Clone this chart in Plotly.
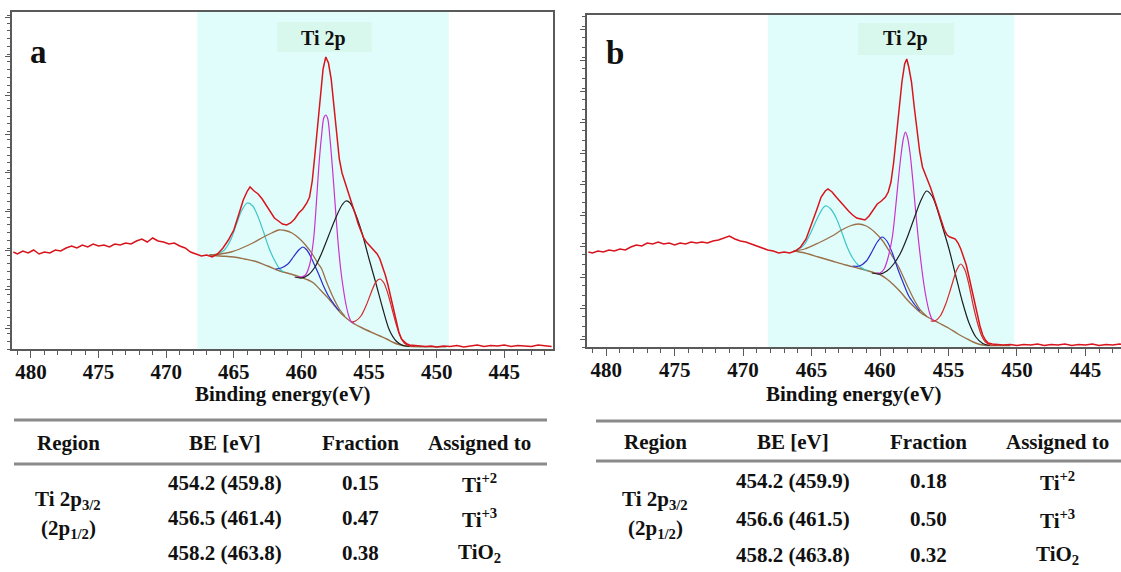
import plotly.graph_objects as go

W, H = 1121, 572

# ---------------- Panel a data (binding energy eV, intensity a.u.) ----------------
A_MEASURED = [
    (481.3, 97), (481.0, 95), (480.6, 98), (480.2, 96), (479.8, 99), (479.4, 95), (479.0, 97),
    (478.6, 96), (478.2, 99), (477.8, 98), (477.4, 101), (477.0, 103), (476.6, 101), (476.2, 104),
    (475.8, 102), (475.4, 105), (475.0, 103), (474.6, 104), (474.2, 102), (473.8, 105), (473.4, 104),
    (473.0, 106), (472.6, 105), (472.2, 108), (471.8, 110), (471.4, 107), (471.0, 111), (470.6, 108),
    (470.2, 107), (469.8, 105), (469.4, 106), (469.0, 103), (468.6, 101), (468.2, 97), (467.8, 95),
    (467.4, 93), (467.0, 94), (466.6, 92), (466.2, 95), (465.8, 101), (465.4, 109), (465.0, 119),
    (464.6, 136), (464.3, 149), (464.0, 158), (463.8, 162), (463.5, 158), (463.2, 155), (462.9, 150),
    (462.6, 144), (462.3, 137), (462.0, 131), (461.7, 128), (461.4, 125), (461.1, 124), (460.8, 126),
    (460.5, 130), (460.2, 136), (459.9, 140), (459.6, 146), (459.4, 152), (459.2, 168), (459.0, 195),
    (458.8, 225), (458.6, 255), (458.4, 280), (458.2, 292), (458.0, 286), (457.8, 270), (457.6, 245),
    (457.4, 215), (457.2, 190), (457.0, 176), (456.8, 168), (456.6, 160), (456.4, 152), (456.2, 144),
    (456.0, 134), (455.8, 125), (455.6, 117), (455.4, 111), (455.2, 107), (455.0, 104), (454.8, 101),
    (454.6, 99), (454.4, 95), (454.2, 90), (454.0, 83), (453.8, 74), (453.6, 64), (453.4, 52),
    (453.2, 39), (453.0, 27), (452.8, 17), (452.6, 10), (452.4, 7), (452.2, 5), (452.0, 4),
    (451.6, 3.5), (451.2, 3), (450.8, 2.5), (450.4, 3), (450.0, 2), (449.5, 3), (449.0, 2.5),
    (448.5, 3.5), (448.0, 2), (447.5, 3), (447.0, 4), (446.5, 2.5), (446.0, 3.5), (445.5, 3),
    (445.0, 4), (444.5, 2.5), (444.0, 3.5), (443.5, 3), (443.0, 2.5), (442.5, 4), (442.0, 3), (441.5, 2.5),
]
A_BACKGROUND = [
    (466.8, 94), (466.0, 93), (465.0, 92), (464.2, 90), (463.5, 88), (462.5, 83), (461.6, 78),
    (460.8, 75), (459.9, 71), (459.5, 69), (459.1, 66), (458.6, 59), (458.1, 52), (457.6, 44),
    (457.1, 36), (456.6, 30), (456.2, 26), (455.5, 21), (454.7, 16), (454.2, 13), (453.7, 10),
    (453.2, 6.5), (452.8, 4.5), (452.3, 3), (451.8, 2.5), (450.5, 2.3), (449.3, 2.3),
]
A_TIO2_2P12 = [  # cyan
    (466.8, 94), (466.2, 95), (465.7, 99), (465.2, 110), (464.8, 125), (464.4, 139), (464.0, 146),
    (463.6, 143), (463.2, 132), (462.8, 117), (462.4, 101), (462.0, 89), (461.6, 80), (461.3, 77),
]
A_TI3_2P12 = [  # brown
    (466.8, 94), (466.0, 95), (465.2, 97), (464.4, 101), (463.6, 106), (462.8, 112), (462.2, 116),
    (461.7, 119), (461.2, 118.5), (460.7, 116), (460.2, 111), (459.7, 104), (459.2, 95), (458.8, 86),
    (458.5, 80), (458.2, 69), (457.7, 53), (457.2, 40), (456.8, 33),
]
A_TI2_2P12 = [  # blue
    (461.9, 80), (461.5, 81), (461.0, 85), (460.6, 92), (460.2, 99), (459.9, 102), (459.6, 99),
    (459.3, 92), (459.0, 83), (458.7, 74), (458.4, 64), (458.0, 53), (457.6, 45), (457.2, 38),
]
A_TIO2_2P32 = [  # magenta
    (460.3, 72), (460.0, 72), (459.7, 74), (459.4, 84), (459.1, 110), (458.9, 145), (458.7, 185),
    (458.5, 215), (458.35, 231), (458.2, 234), (458.05, 230), (457.9, 212), (457.7, 180), (457.5, 143),
    (457.3, 108), (457.1, 80), (456.9, 60), (456.7, 44), (456.5, 33), (456.3, 27), (456.1, 26),
]
A_TI3_2P32 = [  # black
    (460.5, 72), (460.0, 71), (459.5, 74), (459.0, 82), (458.5, 96), (458.0, 113), (457.5, 130),
    (457.0, 144), (456.7, 148), (456.4, 146), (456.0, 135), (455.5, 115), (455.0, 90), (454.5, 66),
    (454.0, 41), (453.5, 19), (453.0, 8), (452.5, 3.5), (452.0, 2.5),
]
A_TI2_2P32 = [  # red component
    (456.3, 27), (456.0, 28), (455.6, 33), (455.2, 44), (454.8, 58), (454.5, 67), (454.2, 70),
    (453.9, 66), (453.6, 55), (453.3, 40), (453.0, 25), (452.7, 13), (452.4, 6), (452.0, 3), (451.6, 2.5),
]

# ---------------- Panel b data ----------------
B_MEASURED = [
    (481.3, 95), (481.0, 94), (480.6, 96), (480.2, 95), (479.8, 97), (479.4, 96), (479.0, 98),
    (478.6, 97), (478.2, 100), (477.8, 102), (477.4, 101), (477.0, 104), (476.6, 103), (476.2, 105),
    (475.8, 103), (475.4, 104), (475.0, 102), (474.6, 104), (474.2, 103), (473.8, 105), (473.4, 104),
    (473.0, 105), (472.6, 104), (472.2, 106), (471.8, 107), (471.4, 109), (471.0, 111), (470.6, 108),
    (470.2, 106), (469.8, 105), (469.4, 103), (469.0, 101), (468.6, 99), (468.2, 97), (467.8, 96),
    (467.4, 94), (467.0, 95), (466.6, 94), (466.2, 96), (465.8, 100), (465.4, 108), (465.0, 122),
    (464.6, 138), (464.3, 150), (464.0, 156), (463.8, 158), (463.5, 155), (463.2, 150), (462.9, 145),
    (462.6, 140), (462.3, 136), (462.0, 132), (461.7, 129), (461.4, 128), (461.1, 127), (460.8, 131),
    (460.5, 137), (460.2, 143), (459.9, 146), (459.6, 150), (459.4, 155), (459.2, 165), (459.0, 185),
    (458.8, 212), (458.6, 240), (458.4, 265), (458.2, 283), (458.05, 288), (457.9, 280), (457.7, 265),
    (457.5, 240), (457.3, 218), (457.1, 195), (456.9, 180), (456.7, 172), (456.5, 166), (456.3, 159),
    (456.1, 151), (455.9, 143), (455.7, 135), (455.5, 126), (455.3, 117), (455.1, 112), (454.9, 110),
    (454.7, 109), (454.5, 108), (454.3, 104), (454.1, 98), (453.9, 90), (453.7, 82), (453.5, 70),
    (453.3, 57), (453.1, 45), (452.9, 32), (452.7, 21), (452.5, 12), (452.3, 7), (452.1, 4),
    (451.8, 3), (451.4, 2.5), (451.0, 2), (450.5, 2.5), (450.0, 1.5), (449.5, 2.5), (449.0, 2),
    (448.5, 3), (448.0, 1.5), (447.5, 2.5), (447.0, 2), (446.5, 3), (446.0, 1.5), (445.5, 2.5),
    (445.0, 2), (444.5, 3), (444.0, 1.5), (443.5, 2.5), (443.0, 2), (442.5, 3), (442.0, 2),
]
B_BACKGROUND = [
    (466.3, 96), (465.5, 94), (464.5, 90), (463.5, 86), (462.5, 82), (461.5, 78.5), (460.6, 75),
    (460.0, 72.5), (459.5, 68), (459.0, 62), (458.5, 55), (458.0, 47), (457.5, 40), (457.0, 34),
    (456.4, 29), (455.7, 24), (455.0, 19), (454.3, 13), (453.7, 8.5), (453.2, 5), (452.7, 2.5),
    (452.2, 1.5), (450.5, 1.5),
]
B_TIO2_2P12 = [
    (466.3, 96), (465.9, 98), (465.5, 103), (465.0, 116), (464.5, 131), (464.1, 140), (463.9, 141),
    (463.6, 138), (463.2, 129), (462.8, 115), (462.4, 100), (462.0, 89), (461.6, 82), (461.2, 78), (460.9, 76),
]
B_TI3_2P12 = [
    (466.3, 96), (465.5, 98), (464.5, 104), (463.5, 111), (462.8, 117), (462.2, 121), (461.6, 123),
    (461.0, 121), (460.4, 115), (459.8, 106), (459.2, 93), (458.6, 79), (458.0, 61), (457.5, 47),
    (457.0, 36), (456.6, 31),
]
B_TI2_2P12 = [
    (462.0, 81), (461.5, 81), (461.0, 86), (460.6, 95), (460.2, 105), (459.85, 110), (459.5, 106),
    (459.1, 94), (458.7, 78), (458.3, 64), (457.9, 51), (457.5, 43), (457.1, 36),
]
B_TIO2_2P32 = [
    (460.3, 74), (460.0, 74), (459.7, 78), (459.4, 90), (459.1, 110), (458.9, 134), (458.7, 162),
    (458.5, 188), (458.3, 208), (458.15, 215), (458.0, 210), (457.8, 193), (457.6, 166), (457.4, 136),
    (457.2, 108), (457.0, 84), (456.8, 63), (456.6, 47), (456.4, 35), (456.2, 28), (456.0, 26),
]
B_TI3_2P32 = [
    (460.6, 74), (460.0, 73), (459.5, 76), (459.0, 83), (458.5, 94), (458.0, 110), (457.5, 129),
    (457.0, 147), (456.6, 156), (456.2, 151), (455.9, 141), (455.5, 123), (455.0, 100), (454.5, 73),
    (454.0, 46), (453.5, 24), (453.0, 10), (452.5, 3.5), (452.0, 1.5),
]
B_TI2_2P32 = [
    (456.3, 26), (456.0, 26), (455.6, 31), (455.2, 43), (454.8, 60), (454.4, 77), (454.1, 83),
    (453.8, 77), (453.5, 62), (453.2, 42), (452.9, 25), (452.6, 12), (452.3, 5), (451.9, 2), (451.5, 1.5),
]

# ---------------- Table data ----------------
TABLE_HEADERS = ["Region", "BE [eV]", "Fraction", "Assigned to"]
A_BE = ["454.2 (459.8)", "456.5 (461.4)", "458.2 (463.8)"]
A_FRACTION = ["0.15", "0.47", "0.38"]
B_BE = ["454.2 (459.9)", "456.6 (461.5)", "458.2 (463.8)"]
B_FRACTION = ["0.18", "0.50", "0.32"]
ASSIGNED = ["Ti<sup>+2</sup>", "Ti<sup>+3</sup>", "TiO<sub>2</sub>"]
REGION = ["Ti 2p<sub>3/2</sub>", "(2p<sub>1/2</sub>)"]

# fit regions (shaded) and peak label
A_REGION = (467.7, 449.1)
B_REGION = (468.2, 450.2)
A_LABEL_BOX = (461.8, 454.8)
B_LABEL_BOX = (461.6, 454.6)

SERIF = "Liberation Serif"
RED = "#d8141c"

COMPONENT_STYLE = [
    ("bg", "#9a7048", 1.4),
    ("cyan", "#3cc6c6", 1.2),
    ("brown", "#9a7048", 1.3),
    ("blue", "#2b2bd0", 1.2),
    ("magenta", "#cc30cc", 1.2),
    ("black", "#1e1e1e", 1.2),
    ("redc", "#d42a2a", 1.2),
]

fig = go.Figure()


def add_panel(xa, ya, comps, measured):
    for (name, color, width), data in zip(COMPONENT_STYLE, comps):
        xs, ys = zip(*data)
        fig.add_trace(go.Scatter(x=xs, y=ys, mode="lines", xaxis=xa, yaxis=ya,
                                 line=dict(color=color, width=width, shape="spline", smoothing=0.8),
                                 showlegend=False, hoverinfo="skip"))
    xs, ys = zip(*measured)
    fig.add_trace(go.Scatter(x=xs, y=ys, mode="lines", xaxis=xa, yaxis=ya,
                             line=dict(color=RED, width=1.5), showlegend=False, hoverinfo="skip"))


add_panel("x", "y", [A_BACKGROUND, A_TIO2_2P12, A_TI3_2P12, A_TI2_2P12, A_TIO2_2P32, A_TI3_2P32, A_TI2_2P32],
          A_MEASURED)
add_panel("x2", "y2", [B_BACKGROUND, B_TIO2_2P12, B_TI3_2P12, B_TI2_2P12, B_TIO2_2P32, B_TI3_2P32, B_TI2_2P32],
          B_MEASURED)


def px(x):
    return x / W


def py(y):
    return 1 - y / H


axis_line = dict(showline=True, linecolor="#5a5a5a", linewidth=1.6, showgrid=False, zeroline=False)
xcommon = dict(axis_line, ticks="outside", ticklen=7, tickwidth=1.3, tickcolor="#5a5a5a", dtick=5,
               tickfont=dict(family=SERIF, size=21, color="#111", weight="bold"), ticklabelstandoff=-4,
               minor=dict(ticks="outside", ticklen=4, dtick=1, tickcolor="#5a5a5a", tickwidth=1.1),
               mirror=True)

fig.update_layout(
    width=W, height=H, margin=dict(l=0, r=0, t=0, b=0),
    paper_bgcolor="white", plot_bgcolor="white", showlegend=False,
    font=dict(family=SERIF),
    xaxis=dict(xcommon, domain=[px(12), px(553)], range=[481.4, 441.4], anchor="y"),
    yaxis=dict(axis_line, domain=[py(349), py(12)], range=[0, 337], anchor="x", mirror=True,
               showticklabels=False, ticks="outside", ticklen=5, tickcolor="#5a5a5a", tick0=21, dtick=38.8,
               minor=dict(ticks="outside", ticklen=3, dtick=7.76, tickcolor="#5a5a5a")),
    xaxis2=dict(xcommon, domain=[px(587), 1.0], range=[481.4, 442.4], anchor="y2"),
    yaxis2=dict(axis_line, domain=[py(347), py(14.7)], range=[0, 332.3], anchor="x2",
                showticklabels=False, ticks="outside", ticklen=5, tickcolor="#5a5a5a", tick0=8, dtick=31,
                minor=dict(ticks="outside", ticklen=3, dtick=10.33, tickcolor="#5a5a5a")),
)

shapes = []
for xr, yr, reg, box, yb in [("x", "y", A_REGION, A_LABEL_BOX, (0.881, 0.970)),
                              ("x2", "y2", B_REGION, B_LABEL_BOX, (0.879, 0.975))]:
    shapes.append(dict(type="rect", xref=xr, yref=yr + " domain", x0=reg[0], x1=reg[1], y0=0, y1=1,
                       fillcolor="#e0fdfc", line=dict(width=0), layer="below"))
    shapes.append(dict(type="rect", xref=xr, yref=yr + " domain", x0=box[0], x1=box[1], y0=yb[0], y1=yb[1],
                       fillcolor="#d8f8ee", line=dict(width=0), layer="below"))

# table rules
for x0, x1, ys in [(14, 547, (420, 464)), (596, 1121, (421, 461))]:
    for yy in ys:
        shapes.append(dict(type="line", xref="paper", yref="paper", x0=px(x0), x1=px(x1), y0=py(yy), y1=py(yy),
                           line=dict(color="#8a8a8a", width=3)))
fig.update_layout(shapes=shapes)

ann = []


def text(x, y, s, size=21):
    ann.append(dict(xref="paper", yref="paper", x=px(x), y=py(y), text="<b>" + s + "</b>", showarrow=False,
                    xanchor="center", yanchor="middle", font=dict(family=SERIF, size=size, color="#111")))


# panel letters and labels
text(39, 52, "a", 33)
text(615, 53, "b", 33)
text(323, 38, "Ti 2p", 20)
text(905, 39, "Ti 2p", 20)
text(282.5, 394, "Binding energy(eV)", 21)
text(854, 394, "Binding energy(eV)", 21)

# tables
for cols, hy, rows, be, frac in [((68, 225, 361, 479), 443, (483, 518, 553), A_BE, A_FRACTION),
                                 ((655, 793, 928, 1057), 442, (481, 519, 555), B_BE, B_FRACTION)]:
    for cx, h in zip(cols, TABLE_HEADERS):
        text(cx, hy, h)
    for ry, b, f, a in zip(rows, be, frac, ASSIGNED):
        text(cols[1], ry, b)
        text(cols[2], ry, f)
        text(cols[3], ry, a)
    text(cols[0], 500, REGION[0])
    text(cols[0], 529, REGION[1])

fig.update_layout(annotations=ann)
fig.write_html("out.html", config={"displayModeBar": False},
               post_script="document.body.style.margin='0';document.body.style.overflow='hidden';")
